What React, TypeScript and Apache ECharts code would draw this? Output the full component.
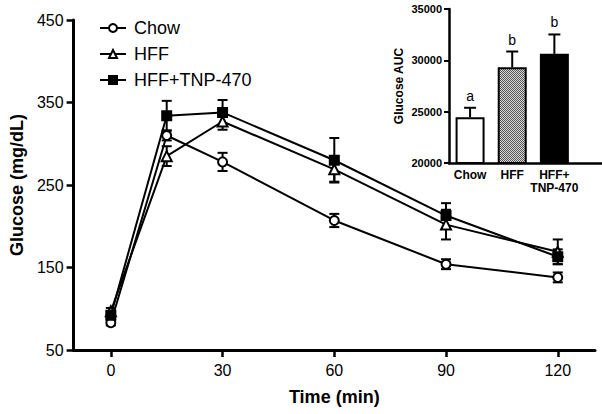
import React, { useEffect, useRef } from "react";
import * as echarts from "echarts";

const times = [0, 15, 30, 60, 90, 120];
const chowMean = [83, 310, 278, 207, 154, 138];
const chowSem = [3, 6, 11, 8, 6, 6];
const hffMean = [97, 285, 327, 269, 202, 169];
const hffSem = [4, 12, 10, 15, 18, 15];
const tnpMean = [92, 334, 338, 280, 213, 163];
const tnpSem = [4, 18, 15, 27, 15, 9];

const xTicks = [0, 30, 60, 90, 120];

const aucCats = ["Chow", "HFF", "HFF+\nTNP-470"];
const aucMean = [24450, 29330, 30630];
const aucSem = [930, 1530, 1890];
const aucLetters = ["a", "b", "b"];

const FONT = "'Liberation Sans', Arial, sans-serif";

export default function App() {
  const ref = useRef<HTMLDivElement>(null);
  useEffect(() => {
    if (!ref.current) return;
    const chart = echarts.init(ref.current, null, { renderer: "svg" });

    const cv = document.createElement("canvas");
    cv.width = 2;
    cv.height = 2;
    const ctx = cv.getContext("2d")!;
    ctx.fillStyle = "#d8d8d8";
    ctx.fillRect(0, 0, 2, 2);
    ctx.fillStyle = "#555";
    ctx.fillRect(0, 0, 1, 1);
    ctx.fillRect(1, 1, 1, 1);

    const errSeries = (mean: number[], sem: number[]) => ({
      type: "custom",
      xAxisIndex: 0,
      yAxisIndex: 0,
      z: 1,
      silent: true,
      data: times.map((t, i) => [t, mean[i], sem[i]]),
      renderItem: (_p: any, api: any) => {
        const x = api.value(0), m = api.value(1), e = api.value(2);
        const top = api.coord([x, m + e]);
        const bot = api.coord([x, m - e]);
        const st = { stroke: "#000", lineWidth: 2 };
        const hw = 5;
        return {
          type: "group",
          children: [
            { type: "line", shape: { x1: top[0], y1: top[1], x2: bot[0], y2: bot[1] }, style: st },
            { type: "line", shape: { x1: top[0] - hw, y1: top[1], x2: top[0] + hw, y2: top[1] }, style: st },
            { type: "line", shape: { x1: bot[0] - hw, y1: bot[1], x2: bot[0] + hw, y2: bot[1] }, style: st },
          ],
        };
      },
    });

    const lineSeries = (name: string, mean: number[], symbol: string, fill: string, size: number) => ({
      name,
      type: "line",
      xAxisIndex: 0,
      yAxisIndex: 0,
      z: 3,
      data: times.map((t, i) => [t, mean[i]]),
      symbol,
      symbolSize: size,
      showAllSymbol: true,
      lineStyle: { color: "#000", width: 2 },
      itemStyle: { color: fill, borderColor: "#000", borderWidth: 2 },
    });

    chart.setOption({
      animation: false,
      backgroundColor: "#fff",
      textStyle: { fontFamily: FONT, color: "#000" },
      legend: {
        data: ["Chow", "HFF", "HFF+TNP-470"],
        orient: "vertical",
        left: 94,
        top: 14,
        itemWidth: 26,
        itemHeight: 10,
        itemGap: 8,
        textStyle: { fontSize: 18, color: "#000", fontFamily: FONT, lineHeight: 18, padding: [0, 0, 0, 3] },
      },
      grid: [
        { left: 73, right: 7, top: 20, bottom: 64 },
        { left: 449, right: 0, top: 9, bottom: 251 },
      ],
      xAxis: [
        {
          type: "value",
          gridIndex: 0,
          min: -10,
          max: 130,
          axisLine: { onZero: false, lineStyle: { color: "#000", width: 3 } },
          axisTick: { customValues: xTicks, length: 7, lineStyle: { color: "#000", width: 2.5 } },
          axisLabel: { customValues: xTicks, fontSize: 16, color: "#000", margin: 12, fontFamily: FONT },
          splitLine: { show: false },
          name: "Time (min)",
          nameLocation: "middle",
          nameGap: 38,
          nameTextStyle: { fontSize: 18, fontWeight: "bold", color: "#000", fontFamily: FONT },
        },
        {
          type: "value",
          gridIndex: 1,
          min: -0.5,
          max: 3.13,
          axisLine: { onZero: false, lineStyle: { color: "#000", width: 2.5 } },
          axisTick: { show: false },
          axisLabel: {
            customValues: [0, 1, 2],
            formatter: (v: number) => aucCats[Math.round(v)] ?? "",
            fontSize: 12,
            fontWeight: "bold",
            color: "#000",
            margin: 5,
            lineHeight: 13,
            fontFamily: FONT,
          },
          splitLine: { show: false },
        },
      ],
      yAxis: [
        {
          type: "value",
          gridIndex: 0,
          min: 50,
          max: 450,
          interval: 100,
          axisLine: { show: true, onZero: false, lineStyle: { color: "#000", width: 3 } },
          axisTick: { show: true, length: 7, lineStyle: { color: "#000", width: 2.5 } },
          axisLabel: { fontSize: 16, color: "#000", margin: 10, fontFamily: FONT },
          splitLine: { show: false },
          name: "Glucose (mg/dL)",
          nameLocation: "middle",
          nameGap: 46,
          nameTextStyle: { fontSize: 18, fontWeight: "bold", color: "#000", fontFamily: FONT },
        },
        {
          type: "value",
          gridIndex: 1,
          min: 20000,
          max: 35000,
          interval: 5000,
          axisLine: { show: true, onZero: false, lineStyle: { color: "#000", width: 2.5 } },
          axisTick: { show: true, length: 5, lineStyle: { color: "#000", width: 2 } },
          axisLabel: {
            fontSize: 11,
            fontWeight: "bold",
            color: "#000",
            margin: 7,
            fontFamily: FONT,
            formatter: (v: number) => String(v),
          },
          splitLine: { show: false },
          name: "Glucose AUC",
          nameLocation: "middle",
          nameGap: 44,
          nameTextStyle: { fontSize: 12, fontWeight: "bold", color: "#000", fontFamily: FONT },
        },
      ],
      series: [
        errSeries(chowMean, chowSem),
        errSeries(hffMean, hffSem),
        errSeries(tnpMean, tnpSem),
        lineSeries("Chow", chowMean, "circle", "#fff", 9),
        lineSeries("HFF", hffMean, "triangle", "#fff", 10),
        lineSeries("HFF+TNP-470", tnpMean, "rect", "#000", 9),
        {
          type: "bar",
          xAxisIndex: 1,
          yAxisIndex: 1,
          barWidth: 29,
          z: 2,
          data: aucMean.map((v, i) => ({
            value: [i, v],
            itemStyle: {
              color: i === 0 ? "#fff" : i === 1 ? { image: cv, repeat: "repeat" } : "#000",
              borderColor: "#000",
              borderWidth: 2,
            },
          })),
        },
        {
          type: "custom",
          xAxisIndex: 1,
          yAxisIndex: 1,
          z: 1,
          silent: true,
          data: aucMean.map((v, i) => [i, v, aucSem[i]]),
          renderItem: (p: any, api: any) => {
            const x = api.value(0), m = api.value(1), e = api.value(2);
            const base = api.coord([x, m]);
            const top = api.coord([x, m + e]);
            const st = { stroke: "#000", lineWidth: 2 };
            const hw = 6;
            return {
              type: "group",
              children: [
                { type: "line", shape: { x1: base[0], y1: base[1], x2: top[0], y2: top[1] }, style: st },
                { type: "line", shape: { x1: top[0] - hw, y1: top[1], x2: top[0] + hw, y2: top[1] }, style: st },
                {
                  type: "text",
                  x: top[0],
                  y: top[1] - 5,
                  style: {
                    text: aucLetters[p.dataIndex],
                    fontSize: 14,
                    fontFamily: FONT,
                    fill: "#000",
                    align: "center",
                    verticalAlign: "bottom",
                  },
                },
              ],
            };
          },
        },
      ],
    });
    return () => chart.dispose();
  }, []);
  return <div ref={ref} style={{ width: 602, height: 414, position: "absolute", left: 0, top: 0 }} />;
}
